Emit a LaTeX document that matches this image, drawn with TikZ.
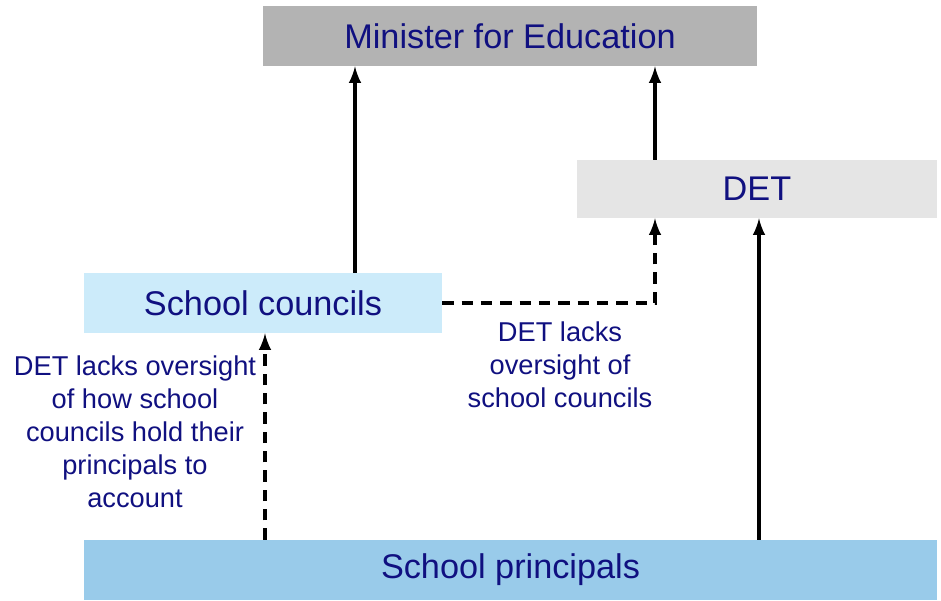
\documentclass[tikz,border=0pt]{standalone}
\usepackage{fontspec}
\setmainfont{Liberation Sans}
\usepackage{xcolor}

\definecolor{navytext}{RGB}{16,16,128}
\definecolor{ministergray}{RGB}{179,179,179}
\definecolor{detgray}{RGB}{229,229,229}
\definecolor{councilblue}{RGB}{204,235,250}
\definecolor{principalblue}{RGB}{153,203,234}

\begin{document}
\begin{tikzpicture}[x=0.02cm, y=-0.02cm, >=latex,
    box/.style={rectangle, inner sep=0pt, minimum height=1.2cm, text=navytext,
      font=\fontsize{19.5}{23}\selectfont},
    note/.style={align=center, text=navytext, font=\fontsize{15.5}{18.8}\selectfont},
    link/.style={->, line width=2.2pt},
    weaklink/.style={link, dash pattern=on 6.5pt off 4.5pt}]
        \useasboundingbox (0,0) rectangle (941,600);
        % Boites
        \node[box, fill=ministergray, minimum width=9.88cm] (min) at (510,36) {Minister for Education};
        \node[box, fill=detgray, minimum width=7.2cm, minimum height=1.16cm] (det) at (757,189) {DET};
        \node[box, fill=councilblue, minimum width=7.16cm] (cc) at (263,303) {School councils};
        \node[box, fill=principalblue, minimum width=17.06cm] (sp) at (510.5,570) {School principals};
        % Colonnes des fleches
        \coordinate (col1) at (265,0);
        \coordinate (col2) at (355,0);
        \coordinate (col3) at (655,0);
        \coordinate (col4) at (759,0);
        % Fleches pleines
        \draw[link] (cc.north -| col2) -- (min.south -| col2);
        \draw[link] (det.north -| col3) -- (min.south -| col3);
        \draw[link] (sp.north -| col4) -- (det.south -| col4);
        % Fleches pointillees
        \draw[weaklink] (sp.north -| col1) -- (cc.south -| col1);
        \draw[weaklink] (cc.east) -| (det.south -| col3);
        % Commentaires
        \node[note] (lackcc) at (560,365) {DET lacks\\oversight of\\school councils};
        \node[note] (lacksp) at (135,432) {DET lacks oversight\\of how school\\councils hold their\\principals to\\account};
    \end{tikzpicture}
\end{document}
